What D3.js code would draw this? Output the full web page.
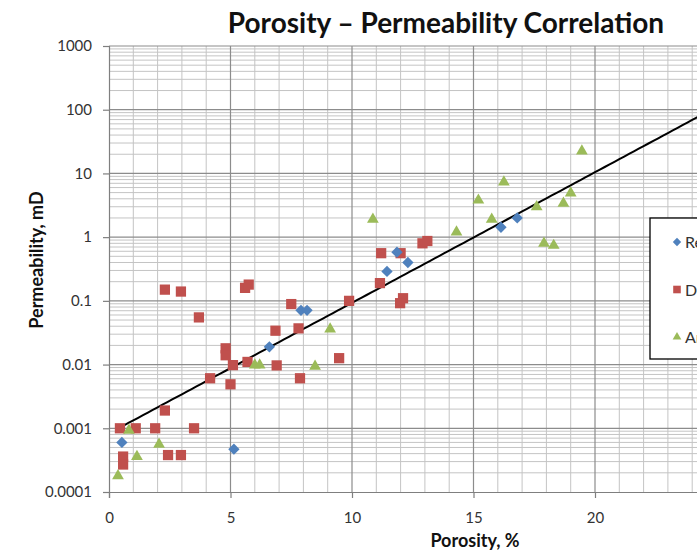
<!DOCTYPE html>
<html>
<head>
<meta charset="utf-8">
<script src="https://cdn.jsdelivr.net/npm/d3@7"></script>
<style>
  body { margin: 0; background: #fff; }
  text { font-family: Lato, "Open Sans", sans-serif; }
</style>
</head>
<body>
<svg id="plot" width="697" height="555"></svg>
<script>
// series names (only first letters visible in the cropped original)
var seriesNames = ["Reservoir A", "Dolomite", "Arenite"];

// porosity (%) / permeability (mD) per series
var rPhi = [0.53, 5.14, 6.6, 7.9, 8.15, 11.44, 11.85, 12.3, 16.13, 16.8];
var rK   = [0.0006, 0.00047, 0.019, 0.071, 0.071, 0.29, 0.58, 0.4, 1.43, 2.0];

var dPhi = [0.45, 1.1, 1.9, 3.5, 2.3, 0.58, 0.58, 2.43, 2.96, 5.0, 2.3, 2.96, 5.6, 5.75, 3.7, 4.8, 4.8, 5.1, 5.7,
            4.16, 6.85, 6.9, 7.5, 7.8, 7.86, 9.47, 9.88, 11.15, 11.2, 12.0, 12.9, 13.1, 12.1, 11.98];
var dK   = [0.001, 0.001, 0.001, 0.001, 0.0019, 0.00036, 0.00027, 0.00038, 0.00038, 0.0049, 0.15, 0.14, 0.16, 0.18, 0.055, 0.018, 0.014, 0.0098, 0.011,
            0.0061, 0.034, 0.0097, 0.089, 0.037, 0.0061, 0.0126, 0.1, 0.19, 0.56, 0.56, 0.8, 0.87, 0.11, 0.092];

var aPhi = [0.37, 0.82, 1.15, 2.06, 6.0, 6.2, 9.1, 8.48, 10.86, 14.3, 15.2, 16.25, 15.75, 17.6, 17.9, 18.3, 18.7, 19.0, 19.46];
var aK   = [0.00018, 0.00093, 0.00036, 0.00056, 0.0098, 0.0098, 0.036, 0.0094, 1.9, 1.2, 3.8, 7.3, 1.9, 3.0, 0.8, 0.74, 3.4, 4.9, 22.4];

// exponential trend k = a * exp(b * phi)
var trendA = 0.00083, trendB = 0.472;
var trendRange = [0.4, 30];

var yTicks = [0.0001, 0.001, 0.01, 0.1, 1, 10, 100, 1000];
var yTickLabels = ["0.0001", "0.001", "0.01", "0.1", "1", "10", "100", "1000"];
var xTicks = [0, 5, 10, 15, 20];

var svg = d3.select("#plot");
var plotLeft = 109, plotTop = 46, plotBottom = 492;

var x = d3.scaleLinear().domain([0, 30]).range([plotLeft, plotLeft + 30 * 24.3]);
var y = d3.scaleLog().domain([0.0001, 1000]).range([plotBottom, plotTop]);

var g = svg.append("g");

// minor grid
var minorY = [];
for (var e = -4; e < 3; e++) {
  for (var m = 2; m < 10; m++) minorY.push(m * Math.pow(10, e));
}
g.selectAll(".gy").data(minorY).enter().append("line")
  .attr("x1", x(0)).attr("x2", x(30))
  .attr("y1", function(d) { return y(d); }).attr("y2", function(d) { return y(d); })
  .style("stroke", "#c4c4c4").style("stroke-width", 1);

g.selectAll(".gx").data(d3.range(1, 31).filter(function(d) { return d % 5 != 0; })).enter().append("line")
  .attr("x1", function(d) { return x(d); }).attr("x2", function(d) { return x(d); })
  .attr("y1", plotTop).attr("y2", plotBottom)
  .style("stroke", "#c4c4c4").style("stroke-width", 1);

// major grid
g.selectAll(".gY").data(yTicks.slice(1)).enter().append("line")
  .attr("x1", x(0)).attr("x2", x(30))
  .attr("y1", function(d) { return y(d); }).attr("y2", function(d) { return y(d); })
  .style("stroke", "#8c8c8c").style("stroke-width", 1.2);
g.selectAll(".gX").data([5, 10, 15, 20, 25, 30]).enter().append("line")
  .attr("x1", function(d) { return x(d); }).attr("x2", function(d) { return x(d); })
  .attr("y1", plotTop).attr("y2", plotBottom)
  .style("stroke", "#8c8c8c").style("stroke-width", 1.2);

// axes
var yAxis = g.append("g")
  .attr("transform", "translate(" + plotLeft + ",0)")
  .call(d3.axisLeft(y).tickValues(yTicks).tickSize(6).tickPadding(11)
    .tickFormat(function(d, i) { return yTickLabels[i]; }));
var xAxis = g.append("g")
  .attr("transform", "translate(0," + plotBottom + ")")
  .call(d3.axisBottom(x).tickValues(xTicks).tickSize(6).tickPadding(14));
[yAxis, xAxis].forEach(function(a) {
  a.select(".domain").style("stroke", "#7f7f7f").style("stroke-width", 1.2);
  a.selectAll(".tick line").style("stroke", "#7f7f7f").style("stroke-width", 1.2);
  a.selectAll(".tick text").style("font-size", "15px").style("fill", "#333")
    .style("font-family", "Lato, sans-serif");
});

// trend line
var trendPts = d3.range(trendRange[0], trendRange[1] + 0.01, 0.2);
g.append("path")
  .datum(trendPts)
  .attr("d", d3.line()
    .x(function(d) { return x(d); })
    .y(function(d) { return y(trendA * Math.exp(trendB * d)); }))
  .style("fill", "none").style("stroke", "#000").style("stroke-width", 2);

// points
function zip(px, py) { return px.map(function(p, i) { return [p, py[i]]; }); }
// excel-style diamond: a square turned 45 degrees
var wideDiamond = {
  draw: function(ctx, size) {
    var r = Math.sqrt(size / 2);
    ctx.moveTo(0, -r); ctx.lineTo(r, 0); ctx.lineTo(0, r); ctx.lineTo(-r, 0); ctx.closePath();
  }
};
var colors = ["#4F81BD", "#C0504D", "#9BBB59"];
var symbols = [wideDiamond, d3.symbolSquare, d3.symbolTriangle];
var sizes = [64, 105, 60];
var allSeries = [zip(rPhi, rK), zip(dPhi, dK), zip(aPhi, aK)];

// draw red first, then green, then blue (blue on top as in original)
[1, 2, 0].forEach(function(s) {
  g.selectAll(".s" + s).data(allSeries[s]).enter().append("path")
    .attr("transform", function(d) { return "translate(" + x(d[0]) + "," + y(d[1]) + ")"; })
    .attr("d", d3.symbol().type(symbols[s]).size(sizes[s]))
    .style("fill", colors[s]);
});

// legend
var lg = svg.append("g").attr("transform", "translate(650,218)");
lg.append("rect").attr("width", 120).attr("height", 141)
  .style("fill", "#fff").style("stroke", "#000").style("stroke-width", 1.3);
seriesNames.forEach(function(n, i) {
  var yy = 24 + i * 47.5;
  lg.append("path")
    .attr("transform", "translate(27," + yy + ")")
    .attr("d", d3.symbol().type(symbols[i]).size(sizes[i] * 0.55))
    .style("fill", colors[i]);
  lg.append("text").attr("x", 35).attr("y", yy + 6)
    .style("font-size", "16px").style("fill", "#333").text(n);
});

// titles
svg.append("text")
  .attr("x", 446).attr("y", 33).attr("text-anchor", "middle")
  .style("font-size", "28px").style("font-weight", "bold").style("fill", "#111")
  .text("Porosity – Permeability Correlation");
svg.append("text")
  .attr("transform", "translate(43,260) rotate(-90)").attr("text-anchor", "middle")
  .style("font-size", "18px").style("font-weight", "bold").style("fill", "#111")
  .text("Permeability, mD");
svg.append("text")
  .attr("x", 475).attr("y", 547).attr("text-anchor", "middle")
  .style("font-size", "18px").style("font-weight", "bold").style("fill", "#111")
  .text("Porosity, %");
</script>
</body>
</html>
